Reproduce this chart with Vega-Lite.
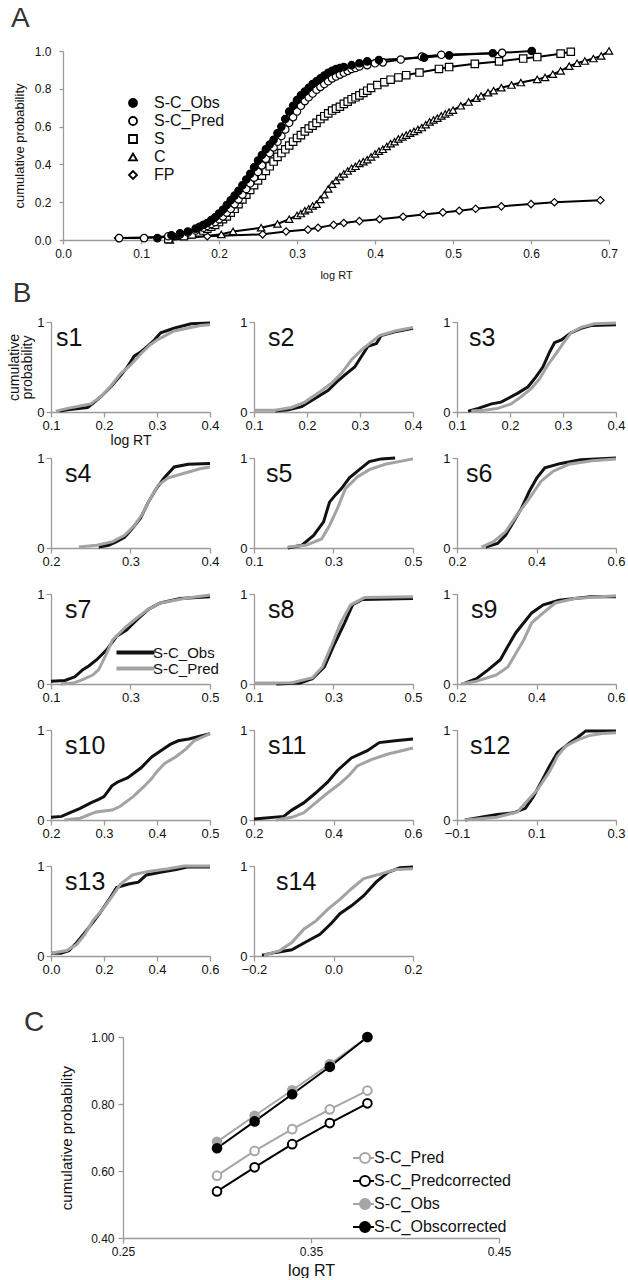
{
"$schema":"https://vega.github.io/schema/vega-lite/v6.json",
"background":"white",
"padding":{"left":7,"top":4,"right":5,"bottom":0},
"config":{
 "view":{"stroke":null},
 "font":"Liberation Sans",
 "title":{"font":"Liberation Sans","fontWeight":"normal","color":"#333333"},
 "axis":{"grid":false,"labelFlush":false,"labelOverlap":false,"domainColor":"#9a9a9a","tickColor":"#9a9a9a","domainWidth":1.3,"tickWidth":1.3,"labelColor":"#111111","titleColor":"#111111","titleFontWeight":"normal","labelFont":"Liberation Sans","titleFont":"Liberation Sans","labelFontSize":13,"titleFontSize":14,"tickSize":5,"labelPadding":2},
 "legend":{"labelFont":"Liberation Sans","labelColor":"#111111"}
},
"resolve":{"scale":{"x":"independent","y":"independent","fill":"independent","stroke":"independent","shape":"independent","color":"independent"},"legend":{"fill":"independent","stroke":"independent","shape":"independent","color":"independent"}},
"datasets":{
"A":[
{"series":"FP","x":0.0705,"y":0.01},{"series":"FP","x":0.185,"y":0.02},{"series":"FP","x":0.256,"y":0.03},{"series":"FP","x":0.286,"y":0.045},{"series":"FP","x":0.314,"y":0.055},{"series":"FP","x":0.327,"y":0.065},{"series":"FP","x":0.347,"y":0.08},{"series":"FP","x":0.36,"y":0.09},{"series":"FP","x":0.38,"y":0.1},{"series":"FP","x":0.406,"y":0.11},{"series":"FP","x":0.436,"y":0.123},{"series":"FP","x":0.462,"y":0.135},{"series":"FP","x":0.487,"y":0.146},{"series":"FP","x":0.508,"y":0.155},{"series":"FP","x":0.529,"y":0.165},{"series":"FP","x":0.562,"y":0.178},{"series":"FP","x":0.6,"y":0.19},{"series":"FP","x":0.63,"y":0.2},{"series":"FP","x":0.689,"y":0.21},
{"series":"C","x":0.137,"y":0.0},{"series":"C","x":0.203,"y":0.03},{"series":"C","x":0.218,"y":0.045},{"series":"C","x":0.254,"y":0.065},{"series":"C","x":0.275,"y":0.085},{"series":"C","x":0.29,"y":0.11},{"series":"C","x":0.3,"y":0.13},{"series":"C","x":0.305,"y":0.14},{"series":"C","x":0.31,"y":0.155},{"series":"C","x":0.315,"y":0.165},{"series":"C","x":0.32,"y":0.18},{"series":"C","x":0.325,"y":0.19},{"series":"C","x":0.33,"y":0.215},{"series":"C","x":0.335,"y":0.24},{"series":"C","x":0.34,"y":0.27},{"series":"C","x":0.345,"y":0.295},{"series":"C","x":0.35,"y":0.315},{"series":"C","x":0.355,"y":0.335},{"series":"C","x":0.36,"y":0.35},{"series":"C","x":0.365,"y":0.365},{"series":"C","x":0.37,"y":0.38},{"series":"C","x":0.375,"y":0.39},{"series":"C","x":0.38,"y":0.405},{"series":"C","x":0.385,"y":0.415},{"series":"C","x":0.39,"y":0.425},{"series":"C","x":0.395,"y":0.44},{"series":"C","x":0.4,"y":0.455},{"series":"C","x":0.405,"y":0.47},{"series":"C","x":0.41,"y":0.48},{"series":"C","x":0.415,"y":0.495},{"series":"C","x":0.42,"y":0.51},{"series":"C","x":0.425,"y":0.52},{"series":"C","x":0.43,"y":0.535},{"series":"C","x":0.435,"y":0.545},{"series":"C","x":0.44,"y":0.555},{"series":"C","x":0.445,"y":0.565},{"series":"C","x":0.45,"y":0.575},{"series":"C","x":0.455,"y":0.585},{"series":"C","x":0.46,"y":0.595},{"series":"C","x":0.465,"y":0.61},{"series":"C","x":0.47,"y":0.625},{"series":"C","x":0.475,"y":0.635},{"series":"C","x":0.48,"y":0.645},{"series":"C","x":0.485,"y":0.657},{"series":"C","x":0.49,"y":0.667},{"series":"C","x":0.495,"y":0.677},{"series":"C","x":0.5,"y":0.687},{"series":"C","x":0.51,"y":0.71},{"series":"C","x":0.52,"y":0.73},{"series":"C","x":0.53,"y":0.75},{"series":"C","x":0.536,"y":0.762},{"series":"C","x":0.545,"y":0.78},{"series":"C","x":0.552,"y":0.79},{"series":"C","x":0.562,"y":0.806},{"series":"C","x":0.575,"y":0.82},{"series":"C","x":0.587,"y":0.833},{"series":"C","x":0.608,"y":0.85},{"series":"C","x":0.618,"y":0.86},{"series":"C","x":0.628,"y":0.877},{"series":"C","x":0.638,"y":0.895},{"series":"C","x":0.649,"y":0.92},{"series":"C","x":0.659,"y":0.935},{"series":"C","x":0.669,"y":0.947},{"series":"C","x":0.68,"y":0.96},{"series":"C","x":0.69,"y":0.974},{"series":"C","x":0.7,"y":1.0},
{"series":"S","x":0.135,"y":0.005},{"series":"S","x":0.155,"y":0.02},{"series":"S","x":0.165,"y":0.03},{"series":"S","x":0.175,"y":0.04},{"series":"S","x":0.18,"y":0.05},{"series":"S","x":0.185,"y":0.06},{"series":"S","x":0.19,"y":0.07},{"series":"S","x":0.195,"y":0.08},{"series":"S","x":0.2,"y":0.095},{"series":"S","x":0.205,"y":0.11},{"series":"S","x":0.21,"y":0.125},{"series":"S","x":0.215,"y":0.145},{"series":"S","x":0.22,"y":0.165},{"series":"S","x":0.225,"y":0.19},{"series":"S","x":0.23,"y":0.215},{"series":"S","x":0.235,"y":0.24},{"series":"S","x":0.24,"y":0.265},{"series":"S","x":0.245,"y":0.29},{"series":"S","x":0.25,"y":0.315},{"series":"S","x":0.255,"y":0.34},{"series":"S","x":0.26,"y":0.365},{"series":"S","x":0.265,"y":0.39},{"series":"S","x":0.27,"y":0.415},{"series":"S","x":0.275,"y":0.44},{"series":"S","x":0.28,"y":0.46},{"series":"S","x":0.285,"y":0.48},{"series":"S","x":0.29,"y":0.5},{"series":"S","x":0.295,"y":0.52},{"series":"S","x":0.3,"y":0.54},{"series":"S","x":0.305,"y":0.555},{"series":"S","x":0.31,"y":0.575},{"series":"S","x":0.315,"y":0.59},{"series":"S","x":0.32,"y":0.605},{"series":"S","x":0.325,"y":0.62},{"series":"S","x":0.33,"y":0.64},{"series":"S","x":0.335,"y":0.655},{"series":"S","x":0.34,"y":0.67},{"series":"S","x":0.345,"y":0.685},{"series":"S","x":0.35,"y":0.695},{"series":"S","x":0.355,"y":0.705},{"series":"S","x":0.36,"y":0.72},{"series":"S","x":0.365,"y":0.732},{"series":"S","x":0.37,"y":0.745},{"series":"S","x":0.375,"y":0.755},{"series":"S","x":0.38,"y":0.765},{"series":"S","x":0.385,"y":0.778},{"series":"S","x":0.39,"y":0.79},{"series":"S","x":0.395,"y":0.805},{"series":"S","x":0.403,"y":0.82},{"series":"S","x":0.412,"y":0.835},{"series":"S","x":0.42,"y":0.848},{"series":"S","x":0.43,"y":0.86},{"series":"S","x":0.44,"y":0.872},{"series":"S","x":0.457,"y":0.886},{"series":"S","x":0.482,"y":0.905},{"series":"S","x":0.495,"y":0.915},{"series":"S","x":0.528,"y":0.932},{"series":"S","x":0.559,"y":0.945},{"series":"S","x":0.59,"y":0.96},{"series":"S","x":0.608,"y":0.968},{"series":"S","x":0.638,"y":0.986},{"series":"S","x":0.651,"y":0.996},
{"series":"S-C_Pred","x":0.072,"y":0.01},{"series":"S-C_Pred","x":0.104,"y":0.01},{"series":"S-C_Pred","x":0.135,"y":0.02},{"series":"S-C_Pred","x":0.15,"y":0.03},{"series":"S-C_Pred","x":0.16,"y":0.04},{"series":"S-C_Pred","x":0.17,"y":0.05},{"series":"S-C_Pred","x":0.18,"y":0.065},{"series":"S-C_Pred","x":0.185,"y":0.075},{"series":"S-C_Pred","x":0.19,"y":0.085},{"series":"S-C_Pred","x":0.195,"y":0.095},{"series":"S-C_Pred","x":0.2,"y":0.11},{"series":"S-C_Pred","x":0.205,"y":0.125},{"series":"S-C_Pred","x":0.21,"y":0.145},{"series":"S-C_Pred","x":0.215,"y":0.165},{"series":"S-C_Pred","x":0.22,"y":0.19},{"series":"S-C_Pred","x":0.225,"y":0.215},{"series":"S-C_Pred","x":0.23,"y":0.24},{"series":"S-C_Pred","x":0.235,"y":0.27},{"series":"S-C_Pred","x":0.24,"y":0.3},{"series":"S-C_Pred","x":0.245,"y":0.33},{"series":"S-C_Pred","x":0.25,"y":0.36},{"series":"S-C_Pred","x":0.255,"y":0.395},{"series":"S-C_Pred","x":0.26,"y":0.43},{"series":"S-C_Pred","x":0.265,"y":0.46},{"series":"S-C_Pred","x":0.27,"y":0.49},{"series":"S-C_Pred","x":0.275,"y":0.52},{"series":"S-C_Pred","x":0.28,"y":0.55},{"series":"S-C_Pred","x":0.285,"y":0.585},{"series":"S-C_Pred","x":0.29,"y":0.62},{"series":"S-C_Pred","x":0.295,"y":0.65},{"series":"S-C_Pred","x":0.3,"y":0.68},{"series":"S-C_Pred","x":0.305,"y":0.71},{"series":"S-C_Pred","x":0.31,"y":0.735},{"series":"S-C_Pred","x":0.315,"y":0.755},{"series":"S-C_Pred","x":0.32,"y":0.775},{"series":"S-C_Pred","x":0.325,"y":0.795},{"series":"S-C_Pred","x":0.33,"y":0.81},{"series":"S-C_Pred","x":0.335,"y":0.825},{"series":"S-C_Pred","x":0.34,"y":0.84},{"series":"S-C_Pred","x":0.345,"y":0.855},{"series":"S-C_Pred","x":0.35,"y":0.865},{"series":"S-C_Pred","x":0.355,"y":0.875},{"series":"S-C_Pred","x":0.36,"y":0.885},{"series":"S-C_Pred","x":0.365,"y":0.895},{"series":"S-C_Pred","x":0.37,"y":0.905},{"series":"S-C_Pred","x":0.375,"y":0.91},{"series":"S-C_Pred","x":0.38,"y":0.918},{"series":"S-C_Pred","x":0.39,"y":0.925},{"series":"S-C_Pred","x":0.4,"y":0.935},{"series":"S-C_Pred","x":0.41,"y":0.94},{"series":"S-C_Pred","x":0.433,"y":0.955},{"series":"S-C_Pred","x":0.46,"y":0.97},{"series":"S-C_Pred","x":0.485,"y":0.98},{"series":"S-C_Pred","x":0.563,"y":0.99},
{"series":"S-C_Obs","x":0.121,"y":0.01},{"series":"S-C_Obs","x":0.139,"y":0.025},{"series":"S-C_Obs","x":0.15,"y":0.035},{"series":"S-C_Obs","x":0.16,"y":0.045},{"series":"S-C_Obs","x":0.17,"y":0.06},{"series":"S-C_Obs","x":0.175,"y":0.07},{"series":"S-C_Obs","x":0.18,"y":0.08},{"series":"S-C_Obs","x":0.185,"y":0.09},{"series":"S-C_Obs","x":0.19,"y":0.105},{"series":"S-C_Obs","x":0.195,"y":0.12},{"series":"S-C_Obs","x":0.2,"y":0.14},{"series":"S-C_Obs","x":0.205,"y":0.16},{"series":"S-C_Obs","x":0.21,"y":0.185},{"series":"S-C_Obs","x":0.215,"y":0.21},{"series":"S-C_Obs","x":0.22,"y":0.235},{"series":"S-C_Obs","x":0.225,"y":0.26},{"series":"S-C_Obs","x":0.23,"y":0.29},{"series":"S-C_Obs","x":0.235,"y":0.32},{"series":"S-C_Obs","x":0.24,"y":0.35},{"series":"S-C_Obs","x":0.245,"y":0.385},{"series":"S-C_Obs","x":0.25,"y":0.42},{"series":"S-C_Obs","x":0.255,"y":0.45},{"series":"S-C_Obs","x":0.26,"y":0.48},{"series":"S-C_Obs","x":0.265,"y":0.505},{"series":"S-C_Obs","x":0.27,"y":0.53},{"series":"S-C_Obs","x":0.275,"y":0.565},{"series":"S-C_Obs","x":0.28,"y":0.6},{"series":"S-C_Obs","x":0.285,"y":0.64},{"series":"S-C_Obs","x":0.29,"y":0.68},{"series":"S-C_Obs","x":0.295,"y":0.71},{"series":"S-C_Obs","x":0.3,"y":0.74},{"series":"S-C_Obs","x":0.305,"y":0.765},{"series":"S-C_Obs","x":0.31,"y":0.785},{"series":"S-C_Obs","x":0.315,"y":0.805},{"series":"S-C_Obs","x":0.32,"y":0.825},{"series":"S-C_Obs","x":0.325,"y":0.84},{"series":"S-C_Obs","x":0.33,"y":0.855},{"series":"S-C_Obs","x":0.335,"y":0.87},{"series":"S-C_Obs","x":0.34,"y":0.885},{"series":"S-C_Obs","x":0.345,"y":0.895},{"series":"S-C_Obs","x":0.35,"y":0.905},{"series":"S-C_Obs","x":0.355,"y":0.91},{"series":"S-C_Obs","x":0.36,"y":0.915},{"series":"S-C_Obs","x":0.37,"y":0.925},{"series":"S-C_Obs","x":0.38,"y":0.935},{"series":"S-C_Obs","x":0.39,"y":0.945},{"series":"S-C_Obs","x":0.405,"y":0.952},{"series":"S-C_Obs","x":0.463,"y":0.965},{"series":"S-C_Obs","x":0.495,"y":0.977},{"series":"S-C_Obs","x":0.551,"y":0.988},{"series":"S-C_Obs","x":0.601,"y":1.0}
],
"B":[
{"p":"s1","s":"S-C_Obs","x":0.116,"y":0.01},{"p":"s1","s":"S-C_Obs","x":0.131,"y":0.026},{"p":"s1","s":"S-C_Obs","x":0.169,"y":0.05},{"p":"s1","s":"S-C_Obs","x":0.178,"y":0.09},{"p":"s1","s":"S-C_Obs","x":0.194,"y":0.17},{"p":"s1","s":"S-C_Obs","x":0.213,"y":0.28},{"p":"s1","s":"S-C_Obs","x":0.232,"y":0.41},{"p":"s1","s":"S-C_Obs","x":0.244,"y":0.5},{"p":"s1","s":"S-C_Obs","x":0.257,"y":0.62},{"p":"s1","s":"S-C_Obs","x":0.27,"y":0.67},{"p":"s1","s":"S-C_Obs","x":0.282,"y":0.73},{"p":"s1","s":"S-C_Obs","x":0.295,"y":0.8},{"p":"s1","s":"S-C_Obs","x":0.307,"y":0.88},{"p":"s1","s":"S-C_Obs","x":0.332,"y":0.93},{"p":"s1","s":"S-C_Obs","x":0.364,"y":0.98},{"p":"s1","s":"S-C_Obs","x":0.4,"y":0.99},
{"p":"s1","s":"S-C_Pred","x":0.109,"y":0.01},{"p":"s1","s":"S-C_Pred","x":0.131,"y":0.04},{"p":"s1","s":"S-C_Pred","x":0.157,"y":0.07},{"p":"s1","s":"S-C_Pred","x":0.175,"y":0.09},{"p":"s1","s":"S-C_Pred","x":0.194,"y":0.17},{"p":"s1","s":"S-C_Pred","x":0.213,"y":0.29},{"p":"s1","s":"S-C_Pred","x":0.232,"y":0.43},{"p":"s1","s":"S-C_Pred","x":0.25,"y":0.52},{"p":"s1","s":"S-C_Pred","x":0.27,"y":0.65},{"p":"s1","s":"S-C_Pred","x":0.288,"y":0.75},{"p":"s1","s":"S-C_Pred","x":0.3,"y":0.8},{"p":"s1","s":"S-C_Pred","x":0.313,"y":0.84},{"p":"s1","s":"S-C_Pred","x":0.332,"y":0.9},{"p":"s1","s":"S-C_Pred","x":0.357,"y":0.93},{"p":"s1","s":"S-C_Pred","x":0.382,"y":0.96},{"p":"s1","s":"S-C_Pred","x":0.4,"y":0.97},
{"p":"s2","s":"S-C_Obs","x":0.14,"y":0.01},{"p":"s2","s":"S-C_Obs","x":0.165,"y":0.026},{"p":"s2","s":"S-C_Obs","x":0.19,"y":0.06},{"p":"s2","s":"S-C_Obs","x":0.215,"y":0.15},{"p":"s2","s":"S-C_Obs","x":0.24,"y":0.24},{"p":"s2","s":"S-C_Obs","x":0.259,"y":0.35},{"p":"s2","s":"S-C_Obs","x":0.271,"y":0.41},{"p":"s2","s":"S-C_Obs","x":0.29,"y":0.5},{"p":"s2","s":"S-C_Obs","x":0.303,"y":0.62},{"p":"s2","s":"S-C_Obs","x":0.315,"y":0.73},{"p":"s2","s":"S-C_Obs","x":0.331,"y":0.76},{"p":"s2","s":"S-C_Obs","x":0.34,"y":0.85},{"p":"s2","s":"S-C_Obs","x":0.366,"y":0.89},{"p":"s2","s":"S-C_Obs","x":0.4,"y":0.93},
{"p":"s2","s":"S-C_Pred","x":0.1,"y":0.02},{"p":"s2","s":"S-C_Pred","x":0.14,"y":0.02},{"p":"s2","s":"S-C_Pred","x":0.171,"y":0.05},{"p":"s2","s":"S-C_Pred","x":0.196,"y":0.11},{"p":"s2","s":"S-C_Pred","x":0.221,"y":0.21},{"p":"s2","s":"S-C_Pred","x":0.246,"y":0.32},{"p":"s2","s":"S-C_Pred","x":0.265,"y":0.43},{"p":"s2","s":"S-C_Pred","x":0.284,"y":0.58},{"p":"s2","s":"S-C_Pred","x":0.303,"y":0.69},{"p":"s2","s":"S-C_Pred","x":0.322,"y":0.78},{"p":"s2","s":"S-C_Pred","x":0.337,"y":0.85},{"p":"s2","s":"S-C_Pred","x":0.366,"y":0.9},{"p":"s2","s":"S-C_Pred","x":0.4,"y":0.94},
{"p":"s3","s":"S-C_Obs","x":0.121,"y":0.01},{"p":"s3","s":"S-C_Obs","x":0.14,"y":0.04},{"p":"s3","s":"S-C_Obs","x":0.165,"y":0.09},{"p":"s3","s":"S-C_Obs","x":0.183,"y":0.11},{"p":"s3","s":"S-C_Obs","x":0.196,"y":0.15},{"p":"s3","s":"S-C_Obs","x":0.215,"y":0.21},{"p":"s3","s":"S-C_Obs","x":0.234,"y":0.28},{"p":"s3","s":"S-C_Obs","x":0.249,"y":0.39},{"p":"s3","s":"S-C_Obs","x":0.262,"y":0.5},{"p":"s3","s":"S-C_Obs","x":0.275,"y":0.67},{"p":"s3","s":"S-C_Obs","x":0.284,"y":0.77},{"p":"s3","s":"S-C_Obs","x":0.297,"y":0.8},{"p":"s3","s":"S-C_Obs","x":0.315,"y":0.88},{"p":"s3","s":"S-C_Obs","x":0.334,"y":0.93},{"p":"s3","s":"S-C_Obs","x":0.353,"y":0.96},{"p":"s3","s":"S-C_Obs","x":0.4,"y":0.97},
{"p":"s3","s":"S-C_Pred","x":0.127,"y":0.01},{"p":"s3","s":"S-C_Pred","x":0.152,"y":0.02},{"p":"s3","s":"S-C_Pred","x":0.177,"y":0.04},{"p":"s3","s":"S-C_Pred","x":0.202,"y":0.09},{"p":"s3","s":"S-C_Pred","x":0.221,"y":0.17},{"p":"s3","s":"S-C_Pred","x":0.24,"y":0.26},{"p":"s3","s":"S-C_Pred","x":0.256,"y":0.37},{"p":"s3","s":"S-C_Pred","x":0.271,"y":0.52},{"p":"s3","s":"S-C_Pred","x":0.287,"y":0.65},{"p":"s3","s":"S-C_Pred","x":0.3,"y":0.76},{"p":"s3","s":"S-C_Pred","x":0.315,"y":0.88},{"p":"s3","s":"S-C_Pred","x":0.334,"y":0.94},{"p":"s3","s":"S-C_Pred","x":0.359,"y":0.98},{"p":"s3","s":"S-C_Pred","x":0.4,"y":0.99},
{"p":"s4","s":"S-C_Obs","x":0.26,"y":0.01},{"p":"s4","s":"S-C_Obs","x":0.2725,"y":0.03},{"p":"s4","s":"S-C_Obs","x":0.2825,"y":0.07},{"p":"s4","s":"S-C_Obs","x":0.2925,"y":0.12},{"p":"s4","s":"S-C_Obs","x":0.3025,"y":0.22},{"p":"s4","s":"S-C_Obs","x":0.3125,"y":0.33},{"p":"s4","s":"S-C_Obs","x":0.3225,"y":0.51},{"p":"s4","s":"S-C_Obs","x":0.3325,"y":0.66},{"p":"s4","s":"S-C_Obs","x":0.3425,"y":0.78},{"p":"s4","s":"S-C_Obs","x":0.355,"y":0.9},{"p":"s4","s":"S-C_Obs","x":0.3725,"y":0.93},{"p":"s4","s":"S-C_Obs","x":0.4,"y":0.94},
{"p":"s4","s":"S-C_Pred","x":0.235,"y":0.01},{"p":"s4","s":"S-C_Pred","x":0.2575,"y":0.03},{"p":"s4","s":"S-C_Pred","x":0.2775,"y":0.07},{"p":"s4","s":"S-C_Pred","x":0.2925,"y":0.14},{"p":"s4","s":"S-C_Pred","x":0.305,"y":0.25},{"p":"s4","s":"S-C_Pred","x":0.315,"y":0.38},{"p":"s4","s":"S-C_Pred","x":0.325,"y":0.55},{"p":"s4","s":"S-C_Pred","x":0.335,"y":0.7},{"p":"s4","s":"S-C_Pred","x":0.3475,"y":0.78},{"p":"s4","s":"S-C_Pred","x":0.3675,"y":0.83},{"p":"s4","s":"S-C_Pred","x":0.3875,"y":0.88},{"p":"s4","s":"S-C_Pred","x":0.4,"y":0.9},
{"p":"s5","s":"S-C_Obs","x":0.185,"y":0.0},{"p":"s5","s":"S-C_Obs","x":0.22,"y":0.03},{"p":"s5","s":"S-C_Obs","x":0.25,"y":0.14},{"p":"s5","s":"S-C_Obs","x":0.275,"y":0.29},{"p":"s5","s":"S-C_Obs","x":0.29,"y":0.51},{"p":"s5","s":"S-C_Obs","x":0.305,"y":0.59},{"p":"s5","s":"S-C_Obs","x":0.32,"y":0.66},{"p":"s5","s":"S-C_Obs","x":0.34,"y":0.78},{"p":"s5","s":"S-C_Obs","x":0.365,"y":0.87},{"p":"s5","s":"S-C_Obs","x":0.39,"y":0.96},{"p":"s5","s":"S-C_Obs","x":0.42,"y":0.99},{"p":"s5","s":"S-C_Obs","x":0.455,"y":1.0},
{"p":"s5","s":"S-C_Pred","x":0.185,"y":0.01},{"p":"s5","s":"S-C_Pred","x":0.23,"y":0.03},{"p":"s5","s":"S-C_Pred","x":0.27,"y":0.1},{"p":"s5","s":"S-C_Pred","x":0.29,"y":0.25},{"p":"s5","s":"S-C_Pred","x":0.31,"y":0.44},{"p":"s5","s":"S-C_Pred","x":0.33,"y":0.66},{"p":"s5","s":"S-C_Pred","x":0.36,"y":0.79},{"p":"s5","s":"S-C_Pred","x":0.39,"y":0.87},{"p":"s5","s":"S-C_Pred","x":0.43,"y":0.93},{"p":"s5","s":"S-C_Pred","x":0.5,"y":0.99},
{"p":"s6","s":"S-C_Obs","x":0.272,"y":0.01},{"p":"s6","s":"S-C_Obs","x":0.302,"y":0.05},{"p":"s6","s":"S-C_Obs","x":0.322,"y":0.14},{"p":"s6","s":"S-C_Obs","x":0.342,"y":0.29},{"p":"s6","s":"S-C_Obs","x":0.362,"y":0.44},{"p":"s6","s":"S-C_Obs","x":0.382,"y":0.63},{"p":"s6","s":"S-C_Obs","x":0.401,"y":0.78},{"p":"s6","s":"S-C_Obs","x":0.421,"y":0.89},{"p":"s6","s":"S-C_Obs","x":0.461,"y":0.94},{"p":"s6","s":"S-C_Obs","x":0.511,"y":0.98},{"p":"s6","s":"S-C_Obs","x":0.6,"y":1.0},
{"p":"s6","s":"S-C_Pred","x":0.262,"y":0.01},{"p":"s6","s":"S-C_Pred","x":0.292,"y":0.07},{"p":"s6","s":"S-C_Pred","x":0.322,"y":0.18},{"p":"s6","s":"S-C_Pred","x":0.352,"y":0.37},{"p":"s6","s":"S-C_Pred","x":0.382,"y":0.55},{"p":"s6","s":"S-C_Pred","x":0.411,"y":0.74},{"p":"s6","s":"S-C_Pred","x":0.441,"y":0.85},{"p":"s6","s":"S-C_Pred","x":0.481,"y":0.93},{"p":"s6","s":"S-C_Pred","x":0.54,"y":0.97},{"p":"s6","s":"S-C_Pred","x":0.6,"y":0.99},
{"p":"s7","s":"S-C_Obs","x":0.1,"y":0.03},{"p":"s7","s":"S-C_Obs","x":0.135,"y":0.04},{"p":"s7","s":"S-C_Obs","x":0.16,"y":0.08},{"p":"s7","s":"S-C_Obs","x":0.18,"y":0.16},{"p":"s7","s":"S-C_Obs","x":0.195,"y":0.2},{"p":"s7","s":"S-C_Obs","x":0.215,"y":0.27},{"p":"s7","s":"S-C_Obs","x":0.24,"y":0.38},{"p":"s7","s":"S-C_Obs","x":0.265,"y":0.53},{"p":"s7","s":"S-C_Obs","x":0.29,"y":0.6},{"p":"s7","s":"S-C_Obs","x":0.315,"y":0.71},{"p":"s7","s":"S-C_Obs","x":0.345,"y":0.83},{"p":"s7","s":"S-C_Obs","x":0.375,"y":0.9},{"p":"s7","s":"S-C_Obs","x":0.425,"y":0.95},{"p":"s7","s":"S-C_Obs","x":0.5,"y":0.97},
{"p":"s7","s":"S-C_Pred","x":0.125,"y":0.0},{"p":"s7","s":"S-C_Pred","x":0.155,"y":0.01},{"p":"s7","s":"S-C_Pred","x":0.175,"y":0.04},{"p":"s7","s":"S-C_Pred","x":0.205,"y":0.1},{"p":"s7","s":"S-C_Pred","x":0.22,"y":0.16},{"p":"s7","s":"S-C_Pred","x":0.24,"y":0.34},{"p":"s7","s":"S-C_Pred","x":0.255,"y":0.49},{"p":"s7","s":"S-C_Pred","x":0.285,"y":0.62},{"p":"s7","s":"S-C_Pred","x":0.315,"y":0.73},{"p":"s7","s":"S-C_Pred","x":0.345,"y":0.83},{"p":"s7","s":"S-C_Pred","x":0.375,"y":0.9},{"p":"s7","s":"S-C_Pred","x":0.435,"y":0.95},{"p":"s7","s":"S-C_Pred","x":0.5,"y":0.99},
{"p":"s8","s":"S-C_Obs","x":0.156,"y":0.0},{"p":"s8","s":"S-C_Obs","x":0.216,"y":0.01},{"p":"s8","s":"S-C_Obs","x":0.247,"y":0.06},{"p":"s8","s":"S-C_Obs","x":0.277,"y":0.19},{"p":"s8","s":"S-C_Obs","x":0.303,"y":0.45},{"p":"s8","s":"S-C_Obs","x":0.328,"y":0.68},{"p":"s8","s":"S-C_Obs","x":0.348,"y":0.88},{"p":"s8","s":"S-C_Obs","x":0.373,"y":0.94},{"p":"s8","s":"S-C_Obs","x":0.5,"y":0.95},
{"p":"s8","s":"S-C_Pred","x":0.1,"y":0.01},{"p":"s8","s":"S-C_Pred","x":0.196,"y":0.015},{"p":"s8","s":"S-C_Pred","x":0.247,"y":0.07},{"p":"s8","s":"S-C_Pred","x":0.272,"y":0.19},{"p":"s8","s":"S-C_Pred","x":0.297,"y":0.45},{"p":"s8","s":"S-C_Pred","x":0.318,"y":0.68},{"p":"s8","s":"S-C_Pred","x":0.343,"y":0.88},{"p":"s8","s":"S-C_Pred","x":0.378,"y":0.96},{"p":"s8","s":"S-C_Pred","x":0.5,"y":0.97},
{"p":"s9","s":"S-C_Obs","x":0.22,"y":0.01},{"p":"s9","s":"S-C_Obs","x":0.249,"y":0.06},{"p":"s9","s":"S-C_Obs","x":0.279,"y":0.16},{"p":"s9","s":"S-C_Obs","x":0.309,"y":0.27},{"p":"s9","s":"S-C_Obs","x":0.328,"y":0.42},{"p":"s9","s":"S-C_Obs","x":0.348,"y":0.57},{"p":"s9","s":"S-C_Obs","x":0.368,"y":0.68},{"p":"s9","s":"S-C_Obs","x":0.388,"y":0.79},{"p":"s9","s":"S-C_Obs","x":0.417,"y":0.88},{"p":"s9","s":"S-C_Obs","x":0.457,"y":0.93},{"p":"s9","s":"S-C_Obs","x":0.536,"y":0.97},{"p":"s9","s":"S-C_Obs","x":0.6,"y":0.97},
{"p":"s9","s":"S-C_Pred","x":0.21,"y":0.0},{"p":"s9","s":"S-C_Pred","x":0.249,"y":0.03},{"p":"s9","s":"S-C_Pred","x":0.299,"y":0.1},{"p":"s9","s":"S-C_Pred","x":0.328,"y":0.19},{"p":"s9","s":"S-C_Pred","x":0.348,"y":0.34},{"p":"s9","s":"S-C_Pred","x":0.368,"y":0.49},{"p":"s9","s":"S-C_Pred","x":0.388,"y":0.68},{"p":"s9","s":"S-C_Pred","x":0.417,"y":0.79},{"p":"s9","s":"S-C_Pred","x":0.447,"y":0.9},{"p":"s9","s":"S-C_Pred","x":0.496,"y":0.95},{"p":"s9","s":"S-C_Pred","x":0.6,"y":0.98},
{"p":"s10","s":"S-C_Obs","x":0.2,"y":0.03},{"p":"s10","s":"S-C_Obs","x":0.22,"y":0.04},{"p":"s10","s":"S-C_Obs","x":0.235,"y":0.08},{"p":"s10","s":"S-C_Obs","x":0.255,"y":0.13},{"p":"s10","s":"S-C_Obs","x":0.275,"y":0.19},{"p":"s10","s":"S-C_Obs","x":0.29,"y":0.23},{"p":"s10","s":"S-C_Obs","x":0.3,"y":0.26},{"p":"s10","s":"S-C_Obs","x":0.315,"y":0.38},{"p":"s10","s":"S-C_Obs","x":0.325,"y":0.42},{"p":"s10","s":"S-C_Obs","x":0.345,"y":0.47},{"p":"s10","s":"S-C_Obs","x":0.37,"y":0.58},{"p":"s10","s":"S-C_Obs","x":0.39,"y":0.7},{"p":"s10","s":"S-C_Obs","x":0.41,"y":0.78},{"p":"s10","s":"S-C_Obs","x":0.425,"y":0.84},{"p":"s10","s":"S-C_Obs","x":0.44,"y":0.88},{"p":"s10","s":"S-C_Obs","x":0.46,"y":0.9},{"p":"s10","s":"S-C_Obs","x":0.5,"y":0.96},
{"p":"s10","s":"S-C_Pred","x":0.225,"y":0.0},{"p":"s10","s":"S-C_Pred","x":0.255,"y":0.02},{"p":"s10","s":"S-C_Pred","x":0.285,"y":0.09},{"p":"s10","s":"S-C_Pred","x":0.315,"y":0.11},{"p":"s10","s":"S-C_Pred","x":0.33,"y":0.15},{"p":"s10","s":"S-C_Pred","x":0.355,"y":0.26},{"p":"s10","s":"S-C_Pred","x":0.375,"y":0.37},{"p":"s10","s":"S-C_Pred","x":0.39,"y":0.46},{"p":"s10","s":"S-C_Pred","x":0.4,"y":0.54},{"p":"s10","s":"S-C_Pred","x":0.415,"y":0.63},{"p":"s10","s":"S-C_Pred","x":0.435,"y":0.7},{"p":"s10","s":"S-C_Pred","x":0.455,"y":0.79},{"p":"s10","s":"S-C_Pred","x":0.47,"y":0.88},{"p":"s10","s":"S-C_Pred","x":0.5,"y":0.96},
{"p":"s11","s":"S-C_Obs","x":0.2,"y":0.01},{"p":"s11","s":"S-C_Obs","x":0.275,"y":0.04},{"p":"s11","s":"S-C_Obs","x":0.295,"y":0.11},{"p":"s11","s":"S-C_Obs","x":0.325,"y":0.19},{"p":"s11","s":"S-C_Obs","x":0.355,"y":0.3},{"p":"s11","s":"S-C_Obs","x":0.385,"y":0.42},{"p":"s11","s":"S-C_Obs","x":0.41,"y":0.55},{"p":"s11","s":"S-C_Obs","x":0.445,"y":0.69},{"p":"s11","s":"S-C_Obs","x":0.485,"y":0.77},{"p":"s11","s":"S-C_Obs","x":0.515,"y":0.86},{"p":"s11","s":"S-C_Obs","x":0.555,"y":0.88},{"p":"s11","s":"S-C_Obs","x":0.6,"y":0.9},
{"p":"s11","s":"S-C_Pred","x":0.255,"y":0.0},{"p":"s11","s":"S-C_Pred","x":0.295,"y":0.03},{"p":"s11","s":"S-C_Pred","x":0.325,"y":0.08},{"p":"s11","s":"S-C_Pred","x":0.355,"y":0.19},{"p":"s11","s":"S-C_Pred","x":0.385,"y":0.3},{"p":"s11","s":"S-C_Pred","x":0.415,"y":0.4},{"p":"s11","s":"S-C_Pred","x":0.44,"y":0.5},{"p":"s11","s":"S-C_Pred","x":0.46,"y":0.6},{"p":"s11","s":"S-C_Pred","x":0.495,"y":0.67},{"p":"s11","s":"S-C_Pred","x":0.535,"y":0.73},{"p":"s11","s":"S-C_Pred","x":0.6,"y":0.8},
{"p":"s12","s":"S-C_Obs","x":-0.08,"y":0.0},{"p":"s12","s":"S-C_Obs","x":-0.04,"y":0.03},{"p":"s12","s":"S-C_Obs","x":0.001,"y":0.06},{"p":"s12","s":"S-C_Obs","x":0.042,"y":0.08},{"p":"s12","s":"S-C_Obs","x":0.072,"y":0.13},{"p":"s12","s":"S-C_Obs","x":0.092,"y":0.26},{"p":"s12","s":"S-C_Obs","x":0.113,"y":0.43},{"p":"s12","s":"S-C_Obs","x":0.133,"y":0.6},{"p":"s12","s":"S-C_Obs","x":0.153,"y":0.75},{"p":"s12","s":"S-C_Obs","x":0.184,"y":0.86},{"p":"s12","s":"S-C_Obs","x":0.204,"y":0.92},{"p":"s12","s":"S-C_Obs","x":0.224,"y":0.99},{"p":"s12","s":"S-C_Obs","x":0.265,"y":0.99},{"p":"s12","s":"S-C_Obs","x":0.3,"y":0.99},
{"p":"s12","s":"S-C_Pred","x":-0.08,"y":0.0},{"p":"s12","s":"S-C_Pred","x":0.0,"y":0.03},{"p":"s12","s":"S-C_Pred","x":0.052,"y":0.09},{"p":"s12","s":"S-C_Pred","x":0.072,"y":0.19},{"p":"s12","s":"S-C_Pred","x":0.103,"y":0.34},{"p":"s12","s":"S-C_Pred","x":0.133,"y":0.54},{"p":"s12","s":"S-C_Pred","x":0.153,"y":0.71},{"p":"s12","s":"S-C_Pred","x":0.173,"y":0.82},{"p":"s12","s":"S-C_Pred","x":0.204,"y":0.89},{"p":"s12","s":"S-C_Pred","x":0.234,"y":0.94},{"p":"s12","s":"S-C_Pred","x":0.265,"y":0.96},{"p":"s12","s":"S-C_Pred","x":0.3,"y":0.97},
{"p":"s13","s":"S-C_Obs","x":0.0,"y":0.03},{"p":"s13","s":"S-C_Obs","x":0.0375,"y":0.03},{"p":"s13","s":"S-C_Obs","x":0.0675,"y":0.06},{"p":"s13","s":"S-C_Obs","x":0.0975,"y":0.15},{"p":"s13","s":"S-C_Obs","x":0.1275,"y":0.26},{"p":"s13","s":"S-C_Obs","x":0.1575,"y":0.37},{"p":"s13","s":"S-C_Obs","x":0.1875,"y":0.49},{"p":"s13","s":"S-C_Obs","x":0.2175,"y":0.62},{"p":"s13","s":"S-C_Obs","x":0.2475,"y":0.76},{"p":"s13","s":"S-C_Obs","x":0.2925,"y":0.8},{"p":"s13","s":"S-C_Obs","x":0.33,"y":0.82},{"p":"s13","s":"S-C_Obs","x":0.36,"y":0.9},{"p":"s13","s":"S-C_Obs","x":0.4125,"y":0.93},{"p":"s13","s":"S-C_Obs","x":0.4725,"y":0.96},{"p":"s13","s":"S-C_Obs","x":0.5175,"y":0.99},{"p":"s13","s":"S-C_Obs","x":0.6,"y":0.99},
{"p":"s13","s":"S-C_Pred","x":0.0,"y":0.03},{"p":"s13","s":"S-C_Pred","x":0.06,"y":0.06},{"p":"s13","s":"S-C_Pred","x":0.0975,"y":0.13},{"p":"s13","s":"S-C_Pred","x":0.1275,"y":0.24},{"p":"s13","s":"S-C_Pred","x":0.1575,"y":0.39},{"p":"s13","s":"S-C_Pred","x":0.195,"y":0.52},{"p":"s13","s":"S-C_Pred","x":0.2325,"y":0.67},{"p":"s13","s":"S-C_Pred","x":0.2625,"y":0.8},{"p":"s13","s":"S-C_Pred","x":0.3075,"y":0.9},{"p":"s13","s":"S-C_Pred","x":0.3675,"y":0.94},{"p":"s13","s":"S-C_Pred","x":0.4425,"y":0.97},{"p":"s13","s":"S-C_Pred","x":0.5025,"y":1.0},{"p":"s13","s":"S-C_Pred","x":0.6,"y":1.0},
{"p":"s14","s":"S-C_Obs","x":-0.18,"y":0.01},{"p":"s14","s":"S-C_Obs","x":-0.145,"y":0.04},{"p":"s14","s":"S-C_Obs","x":-0.105,"y":0.07},{"p":"s14","s":"S-C_Obs","x":-0.064,"y":0.17},{"p":"s14","s":"S-C_Obs","x":-0.034,"y":0.24},{"p":"s14","s":"S-C_Obs","x":-0.004,"y":0.37},{"p":"s14","s":"S-C_Obs","x":0.016,"y":0.47},{"p":"s14","s":"S-C_Obs","x":0.046,"y":0.56},{"p":"s14","s":"S-C_Obs","x":0.076,"y":0.67},{"p":"s14","s":"S-C_Obs","x":0.107,"y":0.82},{"p":"s14","s":"S-C_Obs","x":0.137,"y":0.93},{"p":"s14","s":"S-C_Obs","x":0.167,"y":0.98},{"p":"s14","s":"S-C_Obs","x":0.2,"y":0.99},
{"p":"s14","s":"S-C_Pred","x":-0.175,"y":0.01},{"p":"s14","s":"S-C_Pred","x":-0.135,"y":0.06},{"p":"s14","s":"S-C_Pred","x":-0.105,"y":0.15},{"p":"s14","s":"S-C_Pred","x":-0.074,"y":0.3},{"p":"s14","s":"S-C_Pred","x":-0.044,"y":0.39},{"p":"s14","s":"S-C_Pred","x":-0.014,"y":0.52},{"p":"s14","s":"S-C_Pred","x":0.016,"y":0.63},{"p":"s14","s":"S-C_Pred","x":0.046,"y":0.75},{"p":"s14","s":"S-C_Pred","x":0.076,"y":0.86},{"p":"s14","s":"S-C_Pred","x":0.117,"y":0.91},{"p":"s14","s":"S-C_Pred","x":0.157,"y":0.96},{"p":"s14","s":"S-C_Pred","x":0.2,"y":0.97}
],
"C":[
{"series":"S-C_Pred","x":0.3,"y":0.586},{"series":"S-C_Pred","x":0.32,"y":0.66},{"series":"S-C_Pred","x":0.34,"y":0.725},{"series":"S-C_Pred","x":0.36,"y":0.784},{"series":"S-C_Pred","x":0.38,"y":0.84},
{"series":"S-C_Obs","x":0.3,"y":0.687},{"series":"S-C_Obs","x":0.32,"y":0.765},{"series":"S-C_Obs","x":0.34,"y":0.841},{"series":"S-C_Obs","x":0.36,"y":0.919},{"series":"S-C_Obs","x":0.38,"y":0.999},
{"series":"S-C_Predcorrected","x":0.3,"y":0.539},{"series":"S-C_Predcorrected","x":0.32,"y":0.611},{"series":"S-C_Predcorrected","x":0.34,"y":0.68},{"series":"S-C_Predcorrected","x":0.36,"y":0.743},{"series":"S-C_Predcorrected","x":0.38,"y":0.802},
{"series":"S-C_Obscorrected","x":0.3,"y":0.668},{"series":"S-C_Obscorrected","x":0.32,"y":0.748},{"series":"S-C_Obscorrected","x":0.34,"y":0.829},{"series":"S-C_Obscorrected","x":0.36,"y":0.911},{"series":"S-C_Obscorrected","x":0.38,"y":1.0}
]
},
"vconcat":[
{"resolve":{"scale":{"x":"independent","y":"independent","fill":"independent","stroke":"independent","shape":"independent","color":"independent"},"legend":{"fill":"independent","stroke":"independent","shape":"independent","color":"independent"}},
 "vconcat":[
 {"width":558,"height":189,
  "title":{"text":"A","anchor":"start","frame":"group","dx":-40,"offset":-10,"fontSize":28,"baseline":"alphabetic"},
  "data":{"name":"A"},
  "encoding":{
   "x":{"field":"x","type":"quantitative","scale":{"domain":[0,0.7],"range":[12,558],"nice":false,"zero":false},"axis":{"values":[0,0.1,0.2,0.3,0.4,0.5,0.6,0.7],"format":".1f","title":"log RT","labelFontSize":12,"titleFontSize":11,"tickSize":4,"labelPadding":4,"titlePadding":10}},
   "y":{"field":"y","type":"quantitative","scale":{"domain":[0,1]},"axis":{"values":[0,0.2,0.4,0.6,0.8,1],"format":".1f","title":"cumulative probability","offset":-12,"labelFontSize":12,"titleFontSize":13,"tickSize":4,"labelPadding":8,"titlePadding":8}}
  },
  "layer":[
   {"mark":{"type":"line","color":"#000000","strokeWidth":2},"encoding":{"detail":{"field":"series"}}},
   {"mark":{"type":"point","filled":true,"stroke":"#000000","strokeWidth":1.2,"size":55,"opacity":1},
    "encoding":{
     "shape":{"field":"series","type":"nominal","scale":{"domain":["S-C_Obs","S-C_Pred","S","C","FP"],"range":["circle","circle","square","triangle-up","diamond"]},
      "legend":{"title":null,"orient":"none","legendX":74,"legendY":44,"symbolSize":64,"labelFontSize":16,"labelOffset":13,"rowPadding":2,"symbolStrokeWidth":1.8,
       "encode":{"symbols":{"stroke":{"value":"#000000"},"strokeWidth":{"value":1.8}}}}},
     "fill":{"field":"series","type":"nominal","scale":{"domain":["S-C_Obs","S-C_Pred","S","C","FP"],"range":["#000000","#ffffff","#ffffff","#ffffff","#ffffff"]},
      "legend":{"title":null,"orient":"none","legendX":74,"legendY":44,"symbolSize":64,"labelFontSize":16,"labelOffset":13,"rowPadding":2,"symbolStrokeWidth":1.8,
       "encode":{"symbols":{"stroke":{"value":"#000000"},"strokeWidth":{"value":1.8}}}}}
    }}
  ]
 },
 {"title":{"text":"B","anchor":"start","frame":"bounds","dx":5,"offset":-14,"fontSize":28,"baseline":"alphabetic"},
  "data":{"name":"B"},
  "columns":3,
  "spacing":{"row":46,"column":44},
  "bounds":"flush",
  "resolve":{"scale":{"x":"independent","y":"independent","color":"independent"},"axis":{"x":"independent","y":"independent"},"legend":{"color":"independent"}},
  "concat":[
   {"width":159,"height":90,"title":{"text":"s1","anchor":"start","frame":"group","dx":5,"offset":-55,"fontSize":25,"baseline":"alphabetic","color":"#111111"},
    "transform":[{"filter":"datum.p === 's1'"}],"mark":{"type":"line","strokeWidth":3},
    "encoding":{"x":{"field":"x","type":"quantitative","scale":{"domain":[0.1,0.4],"nice":false,"zero":false},"axis":{"values":[0.1,0.2,0.3,0.4],"format":".1f","title":"log RT","titlePadding":1}},
     "y":{"field":"y","type":"quantitative","scale":{"domain":[0,1]},"axis":{"values":[0,1],"format":".0f","title":["cumulative","probability"],"titlePadding":2,"titleLineHeight":13}},
     "color":{"field":"s","type":"nominal","scale":{"domain":["S-C_Obs","S-C_Pred"],"range":["#111111","#a3a3a3"]},"legend":null}}},
   {"width":159,"height":90,"title":{"text":"s2","anchor":"start","frame":"group","dx":14,"offset":-55,"fontSize":25,"baseline":"alphabetic","color":"#111111"},
    "transform":[{"filter":"datum.p === 's2'"}],"mark":{"type":"line","strokeWidth":3},
    "encoding":{"x":{"field":"x","type":"quantitative","scale":{"domain":[0.1,0.4],"nice":false,"zero":false},"axis":{"values":[0.1,0.2,0.3,0.4],"format":".1f","title":null}},
     "y":{"field":"y","type":"quantitative","scale":{"domain":[0,1]},"axis":{"values":[0,1],"format":".0f","title":null}},
     "color":{"field":"s","type":"nominal","scale":{"domain":["S-C_Obs","S-C_Pred"],"range":["#111111","#a3a3a3"]},"legend":null}}},
   {"width":159,"height":90,"title":{"text":"s3","anchor":"start","frame":"group","dx":12,"offset":-55,"fontSize":25,"baseline":"alphabetic","color":"#111111"},
    "transform":[{"filter":"datum.p === 's3'"}],"mark":{"type":"line","strokeWidth":3},
    "encoding":{"x":{"field":"x","type":"quantitative","scale":{"domain":[0.1,0.4],"nice":false,"zero":false},"axis":{"values":[0.1,0.2,0.3,0.4],"format":".1f","title":null}},
     "y":{"field":"y","type":"quantitative","scale":{"domain":[0,1]},"axis":{"values":[0,1],"format":".0f","title":null}},
     "color":{"field":"s","type":"nominal","scale":{"domain":["S-C_Obs","S-C_Pred"],"range":["#111111","#a3a3a3"]},"legend":null}}},
   {"width":159,"height":90,"title":{"text":"s4","anchor":"start","frame":"group","dx":14,"offset":-55,"fontSize":25,"baseline":"alphabetic","color":"#111111"},
    "transform":[{"filter":"datum.p === 's4'"}],"mark":{"type":"line","strokeWidth":3},
    "encoding":{"x":{"field":"x","type":"quantitative","scale":{"domain":[0.2,0.4],"nice":false,"zero":false},"axis":{"values":[0.2,0.3,0.4],"format":".1f","title":null}},
     "y":{"field":"y","type":"quantitative","scale":{"domain":[0,1]},"axis":{"values":[0,1],"format":".0f","title":null}},
     "color":{"field":"s","type":"nominal","scale":{"domain":["S-C_Obs","S-C_Pred"],"range":["#111111","#a3a3a3"]},"legend":null}}},
   {"width":159,"height":90,"title":{"text":"s5","anchor":"start","frame":"group","dx":12,"offset":-55,"fontSize":25,"baseline":"alphabetic","color":"#111111"},
    "transform":[{"filter":"datum.p === 's5'"}],"mark":{"type":"line","strokeWidth":3},
    "encoding":{"x":{"field":"x","type":"quantitative","scale":{"domain":[0.1,0.5],"nice":false,"zero":false},"axis":{"values":[0.1,0.3,0.5],"format":".1f","title":null}},
     "y":{"field":"y","type":"quantitative","scale":{"domain":[0,1]},"axis":{"values":[0,1],"format":".0f","title":null}},
     "color":{"field":"s","type":"nominal","scale":{"domain":["S-C_Obs","S-C_Pred"],"range":["#111111","#a3a3a3"]},"legend":null}}},
   {"width":159,"height":90,"title":{"text":"s6","anchor":"start","frame":"group","dx":9,"offset":-55,"fontSize":25,"baseline":"alphabetic","color":"#111111"},
    "transform":[{"filter":"datum.p === 's6'"}],"mark":{"type":"line","strokeWidth":3},
    "encoding":{"x":{"field":"x","type":"quantitative","scale":{"domain":[0.2,0.6],"nice":false,"zero":false},"axis":{"values":[0.2,0.4,0.6],"format":".1f","title":null}},
     "y":{"field":"y","type":"quantitative","scale":{"domain":[0,1]},"axis":{"values":[0,1],"format":".0f","title":null}},
     "color":{"field":"s","type":"nominal","scale":{"domain":["S-C_Obs","S-C_Pred"],"range":["#111111","#a3a3a3"]},"legend":null}}},
   {"width":159,"height":90,"title":{"text":"s7","anchor":"start","frame":"group","dx":14,"offset":-55,"fontSize":25,"baseline":"alphabetic","color":"#111111"},
    "transform":[{"filter":"datum.p === 's7'"}],"mark":{"type":"line","strokeWidth":3},
    "encoding":{"x":{"field":"x","type":"quantitative","scale":{"domain":[0.1,0.5],"nice":false,"zero":false},"axis":{"values":[0.1,0.3,0.5],"format":".1f","title":null}},
     "y":{"field":"y","type":"quantitative","scale":{"domain":[0,1]},"axis":{"values":[0,1],"format":".0f","title":null}},
     "color":{"field":"s","type":"nominal","scale":{"domain":["S-C_Obs","S-C_Pred"],"range":["#111111","#a3a3a3"]},
      "legend":{"title":null,"orient":"none","legendX":77,"legendY":51,"symbolType":"M-4.75,0H4.75","symbolSize":64,"symbolStrokeWidth":4,"labelFontSize":15,"labelOffset":10,"rowPadding":-1}}}},
   {"width":159,"height":90,"title":{"text":"s8","anchor":"start","frame":"group","dx":14,"offset":-55,"fontSize":25,"baseline":"alphabetic","color":"#111111"},
    "transform":[{"filter":"datum.p === 's8'"}],"mark":{"type":"line","strokeWidth":3},
    "encoding":{"x":{"field":"x","type":"quantitative","scale":{"domain":[0.1,0.5],"nice":false,"zero":false},"axis":{"values":[0.1,0.3,0.5],"format":".1f","title":null}},
     "y":{"field":"y","type":"quantitative","scale":{"domain":[0,1]},"axis":{"values":[0,1],"format":".0f","title":null}},
     "color":{"field":"s","type":"nominal","scale":{"domain":["S-C_Obs","S-C_Pred"],"range":["#111111","#a3a3a3"]},"legend":null}}},
   {"width":159,"height":90,"title":{"text":"s9","anchor":"start","frame":"group","dx":14,"offset":-55,"fontSize":25,"baseline":"alphabetic","color":"#111111"},
    "transform":[{"filter":"datum.p === 's9'"}],"mark":{"type":"line","strokeWidth":3},
    "encoding":{"x":{"field":"x","type":"quantitative","scale":{"domain":[0.2,0.6],"nice":false,"zero":false},"axis":{"values":[0.2,0.4,0.6],"format":".1f","title":null}},
     "y":{"field":"y","type":"quantitative","scale":{"domain":[0,1]},"axis":{"values":[0,1],"format":".0f","title":null}},
     "color":{"field":"s","type":"nominal","scale":{"domain":["S-C_Obs","S-C_Pred"],"range":["#111111","#a3a3a3"]},"legend":null}}},
   {"width":159,"height":90,"title":{"text":"s10","anchor":"start","frame":"group","dx":14,"offset":-55,"fontSize":25,"baseline":"alphabetic","color":"#111111"},
    "transform":[{"filter":"datum.p === 's10'"}],"mark":{"type":"line","strokeWidth":3},
    "encoding":{"x":{"field":"x","type":"quantitative","scale":{"domain":[0.2,0.5],"nice":false,"zero":false},"axis":{"values":[0.2,0.3,0.4,0.5],"format":".1f","title":null}},
     "y":{"field":"y","type":"quantitative","scale":{"domain":[0,1]},"axis":{"values":[0,1],"format":".0f","title":null}},
     "color":{"field":"s","type":"nominal","scale":{"domain":["S-C_Obs","S-C_Pred"],"range":["#111111","#a3a3a3"]},"legend":null}}},
   {"width":159,"height":90,"title":{"text":"s11","anchor":"start","frame":"group","dx":14,"offset":-55,"fontSize":25,"baseline":"alphabetic","color":"#111111"},
    "transform":[{"filter":"datum.p === 's11'"}],"mark":{"type":"line","strokeWidth":3},
    "encoding":{"x":{"field":"x","type":"quantitative","scale":{"domain":[0.2,0.6],"nice":false,"zero":false},"axis":{"values":[0.2,0.4,0.6],"format":".1f","title":null}},
     "y":{"field":"y","type":"quantitative","scale":{"domain":[0,1]},"axis":{"values":[0,1],"format":".0f","title":null}},
     "color":{"field":"s","type":"nominal","scale":{"domain":["S-C_Obs","S-C_Pred"],"range":["#111111","#a3a3a3"]},"legend":null}}},
   {"width":159,"height":90,"title":{"text":"s12","anchor":"start","frame":"group","dx":13,"offset":-55,"fontSize":25,"baseline":"alphabetic","color":"#111111"},
    "transform":[{"filter":"datum.p === 's12'"}],"mark":{"type":"line","strokeWidth":3},
    "encoding":{"x":{"field":"x","type":"quantitative","scale":{"domain":[-0.1,0.3],"nice":false,"zero":false},"axis":{"values":[-0.1,0.1,0.3],"format":".1f","title":null}},
     "y":{"field":"y","type":"quantitative","scale":{"domain":[0,1]},"axis":{"values":[0,1],"format":".0f","title":null}},
     "color":{"field":"s","type":"nominal","scale":{"domain":["S-C_Obs","S-C_Pred"],"range":["#111111","#a3a3a3"]},"legend":null}}},
   {"width":159,"height":90,"title":{"text":"s13","anchor":"start","frame":"group","dx":14,"offset":-55,"fontSize":25,"baseline":"alphabetic","color":"#111111"},
    "transform":[{"filter":"datum.p === 's13'"}],"mark":{"type":"line","strokeWidth":3},
    "encoding":{"x":{"field":"x","type":"quantitative","scale":{"domain":[0,0.6],"nice":false,"zero":false},"axis":{"values":[0,0.2,0.4,0.6],"format":".1f","title":null}},
     "y":{"field":"y","type":"quantitative","scale":{"domain":[0,1]},"axis":{"values":[0,1],"format":".0f","title":null}},
     "color":{"field":"s","type":"nominal","scale":{"domain":["S-C_Obs","S-C_Pred"],"range":["#111111","#a3a3a3"]},"legend":null}}},
   {"width":159,"height":90,"title":{"text":"s14","anchor":"start","frame":"group","dx":22,"offset":-55,"fontSize":25,"baseline":"alphabetic","color":"#111111"},
    "transform":[{"filter":"datum.p === 's14'"}],"mark":{"type":"line","strokeWidth":3},
    "encoding":{"x":{"field":"x","type":"quantitative","scale":{"domain":[-0.2,0.2],"nice":false,"zero":false},"axis":{"values":[-0.2,0,0.2],"format":".1f","title":null}},
     "y":{"field":"y","type":"quantitative","scale":{"domain":[0,1]},"axis":{"values":[0,1],"format":".0f","title":null}},
     "color":{"field":"s","type":"nominal","scale":{"domain":["S-C_Obs","S-C_Pred"],"range":["#111111","#a3a3a3"]},"legend":null}}}
  ]
 }
],"spacing":0},
{"width":448,"height":201,
 "title":{"text":"C","anchor":"start","frame":"group","dx":-27,"offset":-30,"fontSize":28,"baseline":"alphabetic"},
 "data":{"name":"C"},
 "encoding":{
  "x":{"field":"x","type":"quantitative","scale":{"domain":[0.25,0.45],"range":[72,448],"nice":false,"zero":false},"axis":{"values":[0.25,0.35,0.45],"format":".2f","title":"log RT","labelFontSize":12,"titleFontSize":16,"tickSize":5,"labelPadding":3,"titlePadding":5}},
  "y":{"field":"y","type":"quantitative","scale":{"domain":[0.4,1]},"axis":{"values":[0.4,0.6,0.8,1],"format":".2f","title":"cumulative probability","offset":-72,"labelFontSize":12,"titleFontSize":15,"tickSize":5,"labelPadding":4,"titlePadding":16}}
 },
 "layer":[
  {"mark":{"type":"line","strokeWidth":2},"encoding":{"stroke":{"field":"series","type":"nominal","scale":{"domain":["S-C_Pred","S-C_Predcorrected","S-C_Obs","S-C_Obscorrected"],"range":["#a6a6a6","#000000","#a6a6a6","#000000"]},
    "legend":{"title":null,"orient":"none","legendX":306,"legendY":113,"symbolType":"M-2.4,0H-1M1,0H1.8M1,0A1,1,0,1,1,-1,0A1,1,0,1,1,1,0","symbolSize":100,"symbolStrokeWidth":2,"labelFontSize":16,"labelOffset":1,"rowPadding":5}}}},
  {"mark":{"type":"point","filled":true,"shape":"circle","size":75,"strokeWidth":2,"opacity":1},
   "encoding":{
    "stroke":{"field":"series","type":"nominal","legend":{"title":null,"orient":"none","legendX":306,"legendY":113,"symbolType":"M-2.4,0H-1M1,0H1.8M1,0A1,1,0,1,1,-1,0A1,1,0,1,1,1,0","symbolSize":100,"symbolStrokeWidth":2,"labelFontSize":16,"labelOffset":1,"rowPadding":5}},
    "fill":{"field":"series","type":"nominal","scale":{"domain":["S-C_Pred","S-C_Predcorrected","S-C_Obs","S-C_Obscorrected"],"range":["#ffffff","#ffffff","#a6a6a6","#000000"]},"legend":{"title":null,"orient":"none","legendX":306,"legendY":113,"symbolType":"M-2.4,0H-1M1,0H1.8M1,0A1,1,0,1,1,-1,0A1,1,0,1,1,1,0","symbolSize":100,"symbolStrokeWidth":2,"labelFontSize":16,"labelOffset":1,"rowPadding":5}}
   }}
 ]
}
],
"spacing":32
}
